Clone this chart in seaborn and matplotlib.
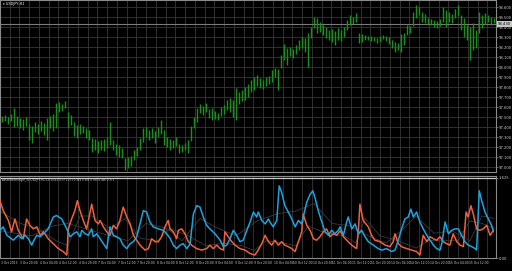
import numpy as np
import matplotlib
matplotlib.use("Agg")
import matplotlib.pyplot as plt
import seaborn as sns

# ---------------- data ----------------
symbol_title = "USDJPY,H1"
indicator_title = "AbsoluteStrength_v1(USDJPY,H1,1,0,14,4,1,0.5) 1.271 0.364 0.385 0.385 0.496 0.371"

high = [97.51, 97.52, 97.50, 97.53, 97.59, 97.51, 97.49, 97.48, 97.50, 97.43,
        97.41, 97.45, 97.43, 97.46, 97.44, 97.49, 97.51, 97.53, 97.64, 97.65,
        97.63, 97.66, 97.55, 97.52, 97.45, 97.42, 97.43, 97.41, 97.39, 97.37,
        97.29, 97.28, 97.26, 97.27, 97.28, 97.30, 97.45, 97.27, 97.23, 97.22,
        97.19, 97.09, 97.10, 97.11, 97.17, 97.20, 97.29, 97.39, 97.40, 97.37,
        97.39, 97.36, 97.40, 97.47, 97.37, 97.30, 97.28, 97.27, 97.30, 97.23,
        97.22, 97.24, 97.27, 97.41, 97.50, 97.59, 97.63, 97.61, 97.64, 97.58,
        97.59, 97.56, 97.54, 97.60, 97.62, 97.67, 97.69, 97.67, 97.79, 97.75,
        97.77, 97.80, 97.83, 97.87, 97.90, 97.92, 97.89, 97.87, 97.90, 97.91,
        97.97, 97.99, 97.98, 98.12, 98.23, 98.19, 98.20, 98.18, 98.22, 98.27,
        98.30, 98.29, 98.34, 98.40, 98.50, 98.49, 98.45, 98.42, 98.40, 98.37,
        98.38, 98.36, 98.39, 98.37, 98.40, 98.47, 98.52, 98.50, 98.54, 98.34,
        98.33, 98.32, 98.31, 98.31, 98.30, 98.29, 98.31, 98.32, 98.31, 98.30,
        98.27, 98.25, 98.24, 98.33, 98.34, 98.42, 98.41, 98.55, 98.62, 98.60,
        98.55, 98.53, 98.49, 98.48, 98.47, 98.46, 98.48, 98.60, 98.57, 98.55,
        98.53, 98.58, 98.62, 98.52, 98.49, 98.42, 98.40, 98.44, 98.37, 98.55,
        98.52, 98.54, 98.52, 98.50, 98.49]

low = [97.45, 97.46, 97.43, 97.46, 97.40, 97.41, 97.39, 97.37, 97.41, 97.27,
       97.24, 97.35, 97.33, 97.36, 97.32, 97.27, 97.39, 97.36, 97.39, 97.55,
       97.56, 97.59, 97.39, 97.42, 97.31, 97.29, 97.33, 97.34, 97.29, 97.27,
       97.15, 97.17, 97.14, 97.17, 97.16, 97.19, 97.22, 97.17, 97.12, 97.10,
       97.09, 96.97, 96.99, 97.01, 97.07, 97.11, 97.17, 97.25, 97.30, 97.27,
       97.29, 97.24, 97.30, 97.33, 97.22, 97.20, 97.17, 97.19, 97.21, 97.14,
       97.15, 97.17, 97.14, 97.26, 97.39, 97.45, 97.54, 97.52, 97.55, 97.49,
       97.47, 97.48, 97.47, 97.51, 97.53, 97.57, 97.55, 97.50, 97.47, 97.63,
       97.66, 97.67, 97.70, 97.75, 97.77, 97.81, 97.79, 97.78, 97.81, 97.83,
       97.85, 97.90, 97.77, 97.99, 98.07, 98.02, 98.11, 98.09, 98.13, 98.17,
       98.19, 98.15, 98.00, 98.29, 98.39, 98.34, 98.35, 98.32, 98.29, 98.27,
       98.25, 98.22, 98.27, 98.26, 98.30, 98.37, 98.42, 98.43, 98.45, 98.24,
       98.25, 98.27, 98.27, 98.26, 98.26, 98.24, 98.25, 98.28, 98.26, 98.23,
       98.19, 98.15, 98.17, 98.15, 98.22, 98.32, 98.34, 98.41, 98.49, 98.52,
       98.45, 98.44, 98.42, 98.42, 98.40, 98.39, 98.41, 98.45, 98.40, 98.45,
       98.44, 98.49, 98.51, 98.37, 98.30, 98.27, 98.07, 98.17, 98.19, 98.34,
       98.39, 98.43, 98.45, 98.42, 98.44]

last_price = 98.43

blue_idx = [-0.7, 0.4, 1.6, 3.8, 4.9, 5.4, 6.6, 7.7, 8.8, 9.9, 10.4, 11.6, 12.7, 13.8,
            15.4, 17.1, 18.2, 19.9, 21.6, 22.7, 23.8, 24.9, 26.0, 26.6, 27.7, 28.8,
            29.9, 30.4, 31.6, 32.7, 33.8, 34.9, 36.0, 37.1, 38.2, 39.3, 40.4, 41.6,
            42.7, 43.8, 44.9, 46.0, 47.1, 48.2, 49.3, 50.4, 52.1, 53.8, 54.9, 56.0,
            57.1, 58.2, 59.3, 60.4, 61.6, 62.7, 63.8, 64.9, 66.0, 67.1, 68.2, 69.3,
            71.0, 72.7, 73.8, 74.9, 76.0, 77.1, 78.2, 79.3, 80.4, 81.6, 82.7, 83.8,
            84.9, 85.4, 86.6, 87.7, 88.8, 89.3, 90.4, 91.6, 92.4, 93.2, 94.3, 95.4,
            96.6, 97.7, 98.8, 99.9, 100.4, 101.6, 102.7, 103.6, 104.3, 105.4, 106.6,
            107.7, 108.8, 109.9, 111.0, 112.1, 112.7, 113.8, 114.9, 115.4, 116.6,
            117.7, 118.8, 119.9, 121.0, 122.1, 123.8, 125.4, 126.6, 128.2, 129.9,
            131.0, 132.1, 133.2, 134.3, 135.4, 136.3, 137.1, 138.2, 139.3, 140.4,
            141.6, 142.7, 143.8, 144.9, 146.0, 146.6, 147.7, 148.8, 149.9, 151.0,
            152.1, 153.2, 154.3, 155.4, 156.6, 157.7, 158.2, 159.1, 159.9, 161.0,
            162.1, 163.2, 163.8]
blue_val = [0.56, 0.63, 0.46, 0.36, 0.43, 0.46, 0.39, 0.46, 0.39, 0.26, 0.33, 0.46, 0.43, 0.49,
            0.59, 0.83, 0.86, 0.79, 0.59, 0.43, 0.49, 0.53, 0.43, 0.56, 0.49, 0.46,
            0.59, 0.43, 0.49, 0.39, 0.29, 0.19, 0.63, 0.46, 0.43, 0.39, 0.26, 0.19,
            0.29, 0.33, 0.43, 0.69, 0.96, 0.93, 0.73, 0.63, 0.59, 0.56, 0.49, 0.40,
            0.26, 0.19, 0.26, 0.29, 0.19, 0.29, 0.89, 1.06, 1.03, 0.83, 0.66, 0.59,
            0.49, 0.36, 0.23, 0.26, 0.39, 0.56, 0.46, 0.33, 0.36, 0.56, 0.73, 0.93,
            0.83, 0.93, 0.76, 0.69, 0.79, 0.73, 0.63, 0.76, 1.46, 1.33, 1.06, 0.93,
            0.79, 0.63, 0.76, 0.69, 0.83, 1.13, 1.29, 1.36, 1.23, 0.96, 0.73,
            0.53, 0.46, 0.56, 0.49, 0.56, 0.63, 0.46, 0.73, 0.83, 0.59,
            0.69, 0.49, 0.56, 0.43, 0.33, 0.26, 0.19, 0.16, 0.19, 0.13,
            0.16, 0.36, 0.59, 0.79, 0.83, 0.99, 0.83, 0.93, 0.73, 0.59,
            0.46, 0.36, 0.26, 0.19, 0.16, 0.29, 0.73, 0.49, 0.56, 0.59,
            0.59, 0.46, 0.33, 0.26, 0.23, 0.19, 0.16, 1.36, 1.16, 0.93,
            0.79, 0.66, 0.53]

orange_idx = [-0.7, 0.4, 2.1, 3.2, 4.3, 5.4, 7.1, 8.2, 9.3, 10.4, 11.6, 12.7, 13.8, 15.4,
              17.1, 18.8, 20.4, 21.6, 22.1, 23.2, 24.3, 25.1, 26.0, 27.1, 28.2, 28.8,
              29.9, 31.0, 32.1, 32.7, 33.8, 34.9, 36.0, 37.1, 38.2, 39.3, 40.4, 41.6,
              42.7, 43.8, 44.9, 46.0, 47.7, 48.8, 49.9, 51.0, 52.1, 53.2, 54.3, 55.4,
              56.0, 57.1, 58.2, 58.8, 59.9, 61.0, 62.1, 63.2, 64.9, 66.6, 68.2, 69.3,
              70.4, 71.6, 72.7, 73.8, 74.3, 75.4, 76.6, 77.7, 79.3, 81.0, 82.7, 84.3,
              85.4, 86.6, 87.7, 88.8, 89.9, 91.0, 92.1, 93.2, 94.3, 95.4, 96.6, 97.7,
              98.8, 99.9, 100.4, 101.6, 102.7, 103.8, 104.9, 106.0, 107.1, 108.2,
              109.3, 110.4, 111.6, 112.7, 113.8, 114.9, 116.6, 118.2, 118.8, 119.3,
              120.4, 122.1, 123.2, 124.3, 126.0, 127.7, 129.3, 130.4, 131.0, 132.1,
              133.2, 134.9, 136.6, 138.2, 139.3, 140.4, 141.6, 142.7, 143.8, 144.9,
              146.0, 147.1, 148.2, 149.3, 150.4, 151.6, 152.7, 153.8, 154.7, 155.4,
              156.3, 157.1, 158.2, 159.3, 160.4, 161.6, 162.7, 163.8]
orange_val = [1.16, 0.96, 0.76, 0.53, 0.79, 0.56, 0.39, 0.79, 0.66, 0.59, 0.63, 0.46, 0.53, 0.39,
              0.29, 0.19, 0.13, 0.06, 0.59, 0.79, 0.96, 1.16, 0.96, 0.76, 0.59, 0.76,
              1.09, 0.76, 0.69, 0.76, 0.63, 0.53, 0.46, 0.66, 0.59, 0.76, 1.03, 0.83,
              0.69, 0.46, 0.36, 0.26, 0.16, 0.19, 0.39, 0.33, 0.33, 0.43, 0.63, 0.76,
              0.59, 0.53, 0.39, 0.56, 0.59, 0.49, 0.33, 0.26, 0.19, 0.16, 0.19, 0.26,
              0.19, 0.26, 0.19, 0.16, 0.53, 0.43, 0.33, 0.26, 0.19, 0.16, 0.09, 0.06,
              0.16, 0.29, 0.46, 0.33, 0.26, 0.36, 0.26, 0.33, 0.26, 0.23, 0.19, 0.13,
              0.33, 0.53, 0.89, 0.66, 0.56, 0.39, 0.36, 0.43, 0.53, 0.59,
              0.43, 0.49, 0.46, 0.55, 0.43, 0.36, 0.26, 0.19, 0.56, 1.09,
              0.76, 0.63, 0.46, 0.36, 0.33, 0.26, 0.23, 0.33, 0.49, 0.29,
              0.23, 0.19, 0.16, 0.13, 0.06, 0.46, 0.33, 0.43, 0.39, 0.36,
              0.43, 0.33, 0.29, 0.26, 0.49, 0.33, 0.26, 0.23, 0.93, 0.83,
              1.06, 0.89, 0.59, 0.56, 0.59, 0.66, 0.46, 0.56]

sig1_idx = [-0.7, 10, 17, 22, 30, 36, 42, 48, 55, 60, 66, 72, 78, 85, 92, 98, 104,
            110, 116, 122, 128, 134, 138, 144, 150, 156, 160, 164]
sig1_val = [0.55, 0.45, 0.65, 0.70, 0.55, 0.45, 0.35, 0.70, 0.60, 0.35, 0.80, 0.60,
            0.45, 0.75, 0.90, 0.95, 1.10, 0.70, 0.65, 0.45, 0.30, 0.60, 0.85, 0.50,
            0.55, 0.35, 0.85, 0.80]
sig2_idx = [-0.7, 6, 12, 18, 22, 26, 30, 36, 41, 46, 52, 56, 62, 68, 74, 80, 84, 88,
            94, 98, 102, 108, 114, 118, 121, 126, 132, 138, 142, 148, 152, 156, 160, 164]
sig2_val = [0.95, 0.70, 0.60, 0.35, 0.25, 0.85, 0.85, 0.60, 0.80, 0.40, 0.35, 0.60,
            0.45, 0.25, 0.30, 0.25, 0.15, 0.35, 0.30, 0.25, 0.65, 0.50, 0.45, 0.30,
            0.80, 0.45, 0.35, 0.20, 0.35, 0.35, 0.35, 0.75, 0.70, 0.60]

price_ticks = [98.60, 98.50, 98.40, 98.30, 98.20, 98.10, 98.00, 97.90, 97.80,
               97.70, 97.60, 97.50, 97.40, 97.30, 97.20, 97.10, 97.00]
ind_ticks = [1.625, 0.0]

time_labels = ["3 Oct 2013", "3 Oct 20:00", "4 Oct 04:00", "4 Oct 12:00", "4 Oct 20:00",
               "7 Oct 04:00", "7 Oct 12:00", "7 Oct 20:00", "8 Oct 04:00", "8 Oct 12:00",
               "8 Oct 20:00", "9 Oct 04:00", "9 Oct 12:00", "9 Oct 20:00", "10 Oct 04:00",
               "10 Oct 12:00", "10 Oct 20:00", "11 Oct 04:00", "11 Oct 12:00", "11 Oct 20:00",
               "14 Oct 04:00", "14 Oct 12:00", "14 Oct 20:00", "15 Oct 04:00", "15 Oct 12:00"]

# ---------------- style ----------------
sns.set_style("dark", {"axes.facecolor": "black", "figure.facecolor": "black",
                       "axes.edgecolor": "#8a8a8a", "grid.color": "#2c2c2c"})
plt.rcParams["font.family"] = ["DejaVu Sans"]

GREEN = "#1b8f1b"
BLUE = "#1fa3dd"
ORANGE = "#ef6040"
TXT = "#cfcfcf"
GRID = "#383838"

fig = plt.figure(figsize=(5.12, 2.71), dpi=100, facecolor="black")
W, H = 512.0, 271.0
ax1 = fig.add_axes([0, 99 / H, 496 / W, 172 / H])
ax2 = fig.add_axes([0, 13 / H, 496 / W, 82 / H])

xmin, xmax = -0.67, 164.67
vgrid = np.arange(xmin + 3.25, xmax, 3.25)

for ax in (ax1, ax2):
    ax.set_facecolor("black")
    ax.set_xlim(xmin, xmax)
    for s in ax.spines.values():
        s.set_color("#8a8a8a")
        s.set_linewidth(0.8)
    for xv in vgrid:
        ax.axvline(xv, color=GRID, lw=0.6, zorder=0)
    ax.yaxis.tick_right()
    ax.tick_params(axis="y", colors=TXT, labelsize=2.7, length=1.2, width=0.5, pad=0.6,
                   color="#8a8a8a")

# ---- top pane: price bars ----
ax1.set_ylim(96.95, 98.67)
for p in price_ticks:
    ax1.axhline(p, color=GRID, lw=0.6, zorder=0)
xs = np.arange(len(high))
ax1.vlines(xs, low, high, color=GREEN, lw=1.0, zorder=3)
ax1.axhline(last_price, color="#7a7a7a", lw=0.8, zorder=2)
ax1.set_yticks(price_ticks)
ax1.set_yticklabels([f"{p:.3f}" for p in price_ticks])
ax1.set_xticks([])
ax1.annotate(f"{last_price:.3f}", xy=(1.0, last_price), xycoords=("axes fraction", "data"),
             xytext=(1.2, 0), textcoords="offset points", fontsize=2.7, color="black",
             va="center", ha="left",
             bbox=dict(boxstyle="square,pad=0.2", fc="#c8c8c8", ec="none"),
             annotation_clip=False, zorder=10)
ax1.text(0.006, 0.988, "\u25be " + symbol_title, transform=ax1.transAxes,
         fontsize=2.5, color="white", va="top", ha="left")

# ---- bottom pane: indicator ----
ax2.set_ylim(0, 1.66)
ax2.axhline(1.625, color="#c8c8c8", lw=0.9, zorder=2)
sns.lineplot(x=sig1_idx, y=sig1_val, ax=ax2, color="#3c3c3c", lw=0.6,
             sort=False, estimator=None, zorder=2)
sns.lineplot(x=sig2_idx, y=sig2_val, ax=ax2, color="#3c3c3c", lw=0.6,
             sort=False, estimator=None, zorder=2)
sns.lineplot(x=orange_idx, y=orange_val, ax=ax2, color=ORANGE, lw=1.1,
             sort=False, estimator=None, zorder=4)
sns.lineplot(x=blue_idx, y=blue_val, ax=ax2, color=BLUE, lw=1.1,
             sort=False, estimator=None, zorder=5)
ax2.set_yticks(ind_ticks)
ax2.set_yticklabels(["1.625", "0.00"])
ax2.set_ylabel("")
ax2.text(0.004, 0.975, indicator_title, transform=ax2.transAxes,
         fontsize=1.9, color=TXT, va="top", ha="left")

tick_pos = [xmin + 0.3 + 6.5 * k for k in range(len(time_labels))]
ax2.set_xticks(tick_pos)
ax2.set_xticklabels(time_labels, ha="left")
ax2.tick_params(axis="x", colors=TXT, labelsize=2.2, length=1.5, width=0.5, pad=0.8,
                color="#8a8a8a")
ax2.set_xlim(xmin, xmax)

fig.savefig("out.png", dpi=100, facecolor="black")
